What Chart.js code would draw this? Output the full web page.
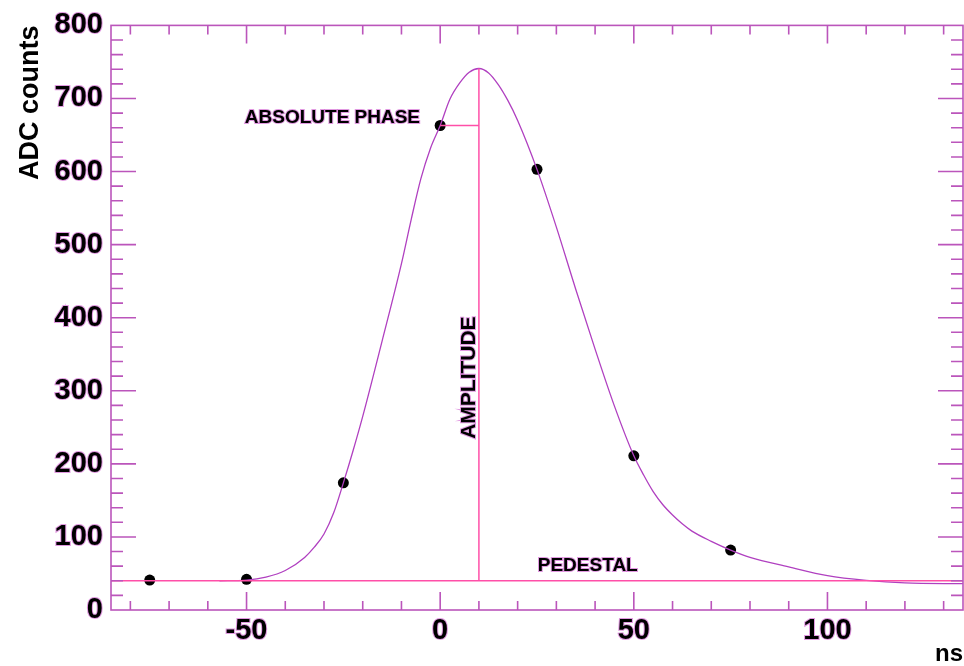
<!DOCTYPE html>
<html>
<head>
<meta charset="utf-8">
<script src="https://cdn.jsdelivr.net/npm/chart.js@4.4.1/dist/chart.umd.min.js"></script>
<style>
  html, body { margin: 0; padding: 0; background: #ffffff; }
  canvas { display: block; }
</style>
</head>
<body>
<canvas id="pulse" width="964" height="666"></canvas>
<script>
const canvas = document.getElementById('pulse');

// measured samples (ns, ADC counts)
const sampleTimes = [-75, -50, -25, 0, 25, 50, 75];
const sampleCounts = [41, 42, 174, 663, 603, 211, 82];

// fitted pulse shape
const fitTimes = [-57, -50, -45, -40, -35, -32.5, -30, -27.5, -25, -22.5, -20, -15, -10, -7.5, -5, -2.5, 0, 2.5, 5, 7.5, 10, 12.5, 15, 17.5, 20, 25, 30, 35, 40, 45, 50, 52.5, 55, 57.5, 60, 62.5, 65, 70, 75, 80, 90, 100, 110, 120, 135];
const fitCounts = [40, 41, 45, 54, 72, 86, 104, 133, 174, 218, 265, 368, 474, 534, 590, 632, 663, 699, 721, 736, 741, 735, 719, 697, 670, 603, 524, 439, 357, 279, 211, 185, 162, 144, 130, 118, 108, 94, 82, 72, 59, 47, 40.5, 37, 36];

const pedestal = 40;
const peakTime = 10;
const peakCount = 741;
const phaseTime = 0;
const phaseCount = 663;

const xTicks = [-50, 0, 50, 100];
const yTicks = [0, 100, 200, 300, 400, 500, 600, 700, 800];

const frameColor = '#bb55bb';
const pinkLine = '#ff4fa8';
const fitColor = '#b040c0';
const halo = 'rgba(200, 70, 200, 0.55)';
const fontName = '"Liberation Sans", Arial, Helvetica, sans-serif';

const toPts = (xs, ys) => xs.map((x, i) => ({x: x, y: ys[i]}));

// frame + ROOT style inner ticks
const frameTicks = {
	id: 'frameTicks',
	afterDatasetsDraw(chart) {
		const c = chart.ctx;
		const a = chart.chartArea;
		const xs = chart.scales.x;
		const ys = chart.scales.y;
		c.save();
		c.strokeStyle = frameColor;
		c.lineWidth = 1.6;
		c.strokeRect(a.left, a.top, a.right - a.left, a.bottom - a.top);
		c.beginPath();
		for (let v = -80; v <= 130; v += 10) {
			const px = xs.getPixelForValue(v);
			const len = v % 50 === 0 ? 18 : 9;
			c.moveTo(px, a.bottom); c.lineTo(px, a.bottom - len);
			c.moveTo(px, a.top); c.lineTo(px, a.top + len);
		}
		for (let v = 20; v < 800; v += 20) {
			const py = ys.getPixelForValue(v);
			const len = v % 100 === 0 ? 25 : 12;
			c.moveTo(a.left, py); c.lineTo(a.left + len, py);
			c.moveTo(a.right, py); c.lineTo(a.right - len, py);
		}
		c.stroke();

		// annotation labels
		c.font = 'bold 19px ' + fontName;
		c.fillStyle = '#000000';
		c.strokeStyle = halo;
		c.lineWidth = 2;
		c.textBaseline = 'middle';
		const label = (txt, x, y, align, rot) => {
			c.save();
			c.translate(xs.getPixelForValue(x), ys.getPixelForValue(y));
			c.rotate(rot);
			c.textAlign = align;
			c.strokeText(txt, 0, 0);
			c.fillText(txt, 0, 0);
			c.restore();
		};
		label('ABSOLUTE PHASE', -5.2, 673, 'right', 0);
		label('PEDESTAL', 25.2, 61, 'left', 0);
		c.font = 'bold 21px ' + fontName;
		label('AMPLITUDE', 7.6, 318, 'center', -Math.PI / 2);
		c.restore();
	}
};

const pulseChart = new Chart(canvas, {
type: 'scatter',
data: {
	datasets: [
		{
			data: toPts([-85, 135], [pedestal, pedestal]),
			showLine: true,
			borderColor: pinkLine,
			borderWidth: 1.5,
			pointRadius: 0
		},
		{
			data: toPts([peakTime, peakTime], [pedestal, peakCount]),
			showLine: true,
			borderColor: pinkLine,
			borderWidth: 1.5,
			pointRadius: 0
		},
		{
			data: toPts([phaseTime, peakTime], [phaseCount, phaseCount]),
			showLine: true,
			borderColor: pinkLine,
			borderWidth: 1.5,
			pointRadius: 0
		},
		{
			data: toPts(fitTimes, fitCounts),
			showLine: true,
			cubicInterpolationMode: 'monotone',
			borderColor: fitColor,
			borderWidth: 1.3,
			pointRadius: 0
		},
		{
			data: toPts(sampleTimes, sampleCounts),
			showLine: false,
			pointRadius: 5.5,
			pointBackgroundColor: '#000000',
			pointBorderColor: '#000000',
			pointBorderWidth: 0
		}
	]
},
options: {
	responsive: false,
	animation: false,
	layout: {
		autoPadding: false,
		padding: {left: 10, top: 22, right: 1, bottom: 0}
	},
	plugins: {
		legend: {display: false},
		tooltip: {enabled: false}
	},
	scales: {
		x: {
			type: 'linear',
			min: -85,
			max: 135,
			grid: {display: false, drawTicks: false},
			border: {display: false},
			afterBuildTicks: (s) => { s.ticks = xTicks.map(v => ({value: v})); },
			afterFit: (s) => { s.height = 56; },
			ticks: {
				padding: 4,
				color: '#000000',
				font: {family: fontName, size: 29, weight: 'bold'},
				textStrokeColor: halo,
				textStrokeWidth: 2
			},
			title: {
				display: true,
				text: 'ns',
				align: 'end',
				color: '#000000',
				padding: 0,
				font: {family: fontName, size: 24, weight: 'bold', lineHeight: 1}
			}
		},
		y: {
			type: 'linear',
			min: 0,
			max: 800,
			grid: {display: false, drawTicks: false},
			border: {display: false},
			afterBuildTicks: (s) => { s.ticks = yTicks.map(v => ({value: v})); },
			afterFit: (s) => { s.width = 101; },
			ticks: {
				padding: 8,
				color: '#000000',
				font: {family: fontName, size: 29, weight: 'bold'},
				textStrokeColor: halo,
				textStrokeWidth: 2
			},
			title: {
				display: true,
				text: 'ADC counts',
				align: 'end',
				color: '#000000',
				padding: 4,
				font: {family: fontName, size: 27, weight: 'bold'}
			}
		}
	}
},
plugins: [frameTicks]
});
</script>
</body>
</html>
